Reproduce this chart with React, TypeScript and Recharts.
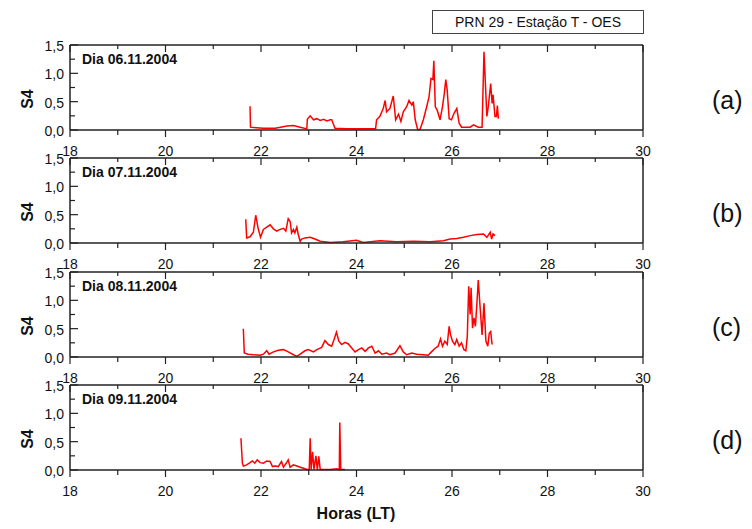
import React from "react";
import { LineChart, Line, XAxis, YAxis } from "recharts";

// Dia 06.11.2004
const hoursA = [21.77, 21.78, 21.9, 22.05, 22.3, 22.54, 22.68, 22.82, 22.96, 22.97, 23.03, 23.1, 23.17, 23.24, 23.31, 23.38, 23.45, 23.48, 23.55, 23.79, 24.14, 24.4, 24.42, 24.49, 24.56, 24.6, 24.63, 24.7, 24.77, 24.82, 24.88, 24.93, 24.98, 25.05, 25.1, 25.16, 25.19, 25.23, 25.28, 25.33, 25.4, 25.47, 25.52, 25.56, 25.6, 25.62, 25.65, 25.69, 25.75, 25.8, 25.84, 25.87, 25.9, 25.94, 25.99, 26.04, 26.1, 26.15, 26.2, 26.38, 26.45, 26.55, 26.63, 26.67, 26.73, 26.76, 26.81, 26.84, 26.86, 26.9, 26.93, 26.95, 26.97];
const s4A = [0.42, 0.05, 0.04, 0.03, 0.03, 0.07, 0.08, 0.05, 0.02, 0.19, 0.25, 0.18, 0.2, 0.17, 0.19, 0.16, 0.18, 0.18, 0.03, 0.02, 0.02, 0.02, 0.18, 0.24, 0.38, 0.52, 0.32, 0.38, 0.6, 0.18, 0.28, 0.15, 0.32, 0.41, 0.52, 0.44, 0.5, 0.18, 0.01, 0.01, 0.18, 0.41, 0.59, 0.91, 0.89, 1.22, 0.41, 0.35, 0.18, 0.41, 0.65, 0.89, 0.7, 0.2, 0.18, 0.29, 0.38, 0.12, 0.05, 0.05, 0.09, 0.05, 0.05, 1.38, 0.24, 0.41, 0.82, 0.47, 0.62, 0.24, 0.24, 0.43, 0.2];

// Dia 07.11.2004
const hoursB = [21.68, 21.7, 21.77, 21.84, 21.89, 21.94, 21.99, 22.05, 22.12, 22.19, 22.26, 22.33, 22.4, 22.47, 22.52, 22.57, 22.61, 22.64, 22.68, 22.71, 22.75, 22.78, 22.82, 22.85, 22.92, 23.03, 23.13, 23.24, 23.45, 23.72, 24.0, 24.14, 24.49, 24.84, 25.19, 25.54, 25.82, 25.96, 26.1, 26.24, 26.38, 26.52, 26.66, 26.73, 26.8, 26.83, 26.86, 26.9];
const s4B = [0.42, 0.09, 0.11, 0.19, 0.49, 0.26, 0.1, 0.24, 0.28, 0.32, 0.25, 0.21, 0.24, 0.26, 0.21, 0.43, 0.38, 0.18, 0.24, 0.18, 0.28, 0.15, 0.03, 0.07, 0.09, 0.1, 0.07, 0.03, 0.01, 0.02, 0.05, 0.01, 0.04, 0.02, 0.03, 0.02, 0.04, 0.07, 0.08, 0.1, 0.13, 0.15, 0.16, 0.1, 0.19, 0.07, 0.16, 0.13];

// Dia 08.11.2004
const hoursC = [21.63, 21.65, 21.73, 21.84, 21.98, 22.05, 22.12, 22.17, 22.26, 22.36, 22.47, 22.57, 22.68, 22.75, 22.82, 22.92, 22.99, 23.1, 23.17, 23.27, 23.34, 23.41, 23.48, 23.53, 23.58, 23.63, 23.69, 23.76, 23.83, 23.9, 23.97, 24.04, 24.11, 24.18, 24.25, 24.32, 24.39, 24.46, 24.53, 24.63, 24.7, 24.81, 24.91, 24.98, 25.05, 25.16, 25.26, 25.4, 25.5, 25.57, 25.64, 25.71, 25.76, 25.8, 25.85, 25.9, 25.94, 25.97, 26.01, 26.06, 26.1, 26.15, 26.2, 26.25, 26.29, 26.32, 26.35, 26.38, 26.4, 26.43, 26.46, 26.49, 26.52, 26.55, 26.59, 26.63, 26.67, 26.71, 26.75, 26.78, 26.81, 26.84];
const s4C = [0.5, 0.07, 0.05, 0.04, 0.03, 0.05, 0.11, 0.05, 0.09, 0.12, 0.13, 0.09, 0.04, 0.01, 0.05, 0.11, 0.13, 0.09, 0.13, 0.17, 0.29, 0.22, 0.19, 0.31, 0.44, 0.28, 0.22, 0.26, 0.23, 0.16, 0.09, 0.13, 0.16, 0.1, 0.16, 0.19, 0.07, 0.11, 0.05, 0.07, 0.04, 0.07, 0.2, 0.09, 0.04, 0.07, 0.05, 0.04, 0.03, 0.09, 0.15, 0.19, 0.32, 0.19, 0.28, 0.22, 0.54, 0.39, 0.28, 0.22, 0.31, 0.19, 0.25, 0.13, 0.11, 0.36, 1.25, 0.75, 1.22, 0.51, 0.69, 0.54, 0.92, 1.36, 0.86, 0.39, 0.95, 0.28, 0.19, 0.42, 0.45, 0.22];

// Dia 09.11.2004
const hoursD = [21.58, 21.61, 21.63, 21.7, 21.77, 21.82, 21.87, 21.92, 21.98, 22.05, 22.12, 22.19, 22.24, 22.29, 22.36, 22.43, 22.47, 22.52, 22.57, 22.61, 22.68, 22.75, 22.82, 22.89, 22.96, 23.01, 23.03, 23.05, 23.08, 23.11, 23.15, 23.18, 23.21, 23.24, 23.31, 23.45, 23.59, 23.64, 23.65, 23.67, 23.76];
const s4D = [0.56, 0.12, 0.07, 0.09, 0.13, 0.16, 0.12, 0.18, 0.13, 0.12, 0.16, 0.15, 0.06, 0.07, 0.06, 0.15, 0.05, 0.11, 0.18, 0.05, 0.09, 0.07, 0.05, 0.03, 0.01, 0.01, 0.56, 0.01, 0.32, 0.01, 0.25, 0.0, 0.24, 0.01, 0.01, 0.01, 0.02, 0.01, 0.84, 0.01, 0.01];

const dayLabels = ["Dia 06.11.2004", "Dia 07.11.2004", "Dia 08.11.2004", "Dia 09.11.2004"];
const panelTags = ["(a)", "(b)", "(c)", "(d)"];
const xTicks = [18, 19, 20, 21, 22, 23, 24, 25, 26, 27, 28, 29, 30];
const yTicks = [0, 0.25, 0.5, 0.75, 1.0, 1.25, 1.5];
const seriesHours = [hoursA, hoursB, hoursC, hoursD];
const seriesS4 = [s4A, s4B, s4C, s4D];

const FONT = '"Liberation Sans", Arial, Helvetica, sans-serif';
const AXIS = "#222";
const PLOT_H = 85;
const TOPS = [45, 158, 272, 385];

const isMajorX = (v: number) => v % 2 === 0;
const isMajorY = (v: number) => Math.abs(v * 2 - Math.round(v * 2)) < 1e-6;

const BottomTick = (p: any) => {
  const v = p.payload.value;
  const major = isMajorX(v);
  return (
    <g>
      <line x1={p.x} x2={p.x} y1={p.y} y2={p.y + (major ? 7 : 5)} stroke={AXIS} strokeWidth={1.2} />
      {major && (
        <text x={p.x} y={p.y + 26} textAnchor="middle" fontSize={14} fontFamily={FONT} fill="#111">
          {v}
        </text>
      )}
    </g>
  );
};

const TopTick = (p: any) => {
  const major = isMajorX(p.payload.value);
  return <line x1={p.x} x2={p.x} y1={p.y} y2={p.y + (major ? 7 : 4)} stroke={AXIS} strokeWidth={1.2} />;
};

const LeftTick = (p: any) => {
  const v = p.payload.value;
  const major = isMajorY(v);
  return (
    <g>
      <line x1={p.x} x2={p.x + (major ? 8 : 5)} y1={p.y} y2={p.y} stroke={AXIS} strokeWidth={1.2} />
      {major && (
        <text x={p.x - 6} y={p.y + 6} textAnchor="end" fontSize={14} fontFamily={FONT} fill="#111">
          {v.toFixed(1).replace(".", ",")}
        </text>
      )}
    </g>
  );
};

const RightTick = (p: any) => {
  const major = isMajorY(p.payload.value);
  return <line x1={p.x} x2={p.x - (major ? 7 : 4)} y1={p.y} y2={p.y} stroke={AXIS} strokeWidth={1.2} />;
};

function Panel({ index }: { index: number }) {
  const hours = seriesHours[index];
  const vals = seriesS4[index];
  const data = hours.map((h, i) => ({ h, s4: vals[i] }));
  const top = TOPS[index];
  const axisLine = { stroke: AXIS, strokeWidth: 1.5 };
  return (
    <div style={{ position: "absolute", left: 0, top: top - 15 }}>
      <LineChart width={752} height={PLOT_H + 45} data={data} margin={{ top: 14, right: 108, bottom: 0, left: 69 }}>
        <XAxis dataKey="h" type="number" domain={[18, 30]} ticks={xTicks} interval={0} axisLine={axisLine}
          tickLine={false} tickSize={0} tickMargin={0} height={30} tick={(p: any) => <BottomTick {...p} />} />
        <XAxis xAxisId="top" orientation="top" dataKey="h" type="number" domain={[18, 30]} ticks={xTicks} interval={0}
          axisLine={axisLine} tickLine={false} tickSize={0} tickMargin={0} height={1} tick={(p: any) => <TopTick {...p} />} />
        <YAxis type="number" domain={[0, 1.5]} ticks={yTicks} interval={0} axisLine={axisLine} tickLine={false}
          tickSize={0} tickMargin={0} width={1} tick={(p: any) => <LeftTick {...p} />} />
        <YAxis yAxisId="right" orientation="right" type="number" domain={[0, 1.5]} ticks={yTicks} interval={0}
          axisLine={axisLine} tickLine={false} tickSize={0} tickMargin={0} width={1} tick={(p: any) => <RightTick {...p} />} />
        <Line type="linear" dataKey="s4" stroke="#ff0000" strokeWidth={1.5} dot={false} isAnimationActive={false} />
      </LineChart>
    </div>
  );
}

export default function App() {
  return (
    <div style={{ position: "absolute", left: 0, top: 0, width: 752, height: 529, background: "#fff", fontFamily: FONT, overflow: "hidden" }}>
      {[0, 1, 2, 3].map((i) => (
        <Panel key={i} index={i} />
      ))}
      {TOPS.map((t, i) => (
        <React.Fragment key={"lbl" + i}>
          <div style={{ position: "absolute", left: 82, top: t + 6, fontSize: 14, fontWeight: 700, color: "#111", whiteSpace: "nowrap" }}>
            {dayLabels[i]}
          </div>
          <div style={{ position: "absolute", left: 8, top: t + 45, width: 40, textAlign: "center", fontSize: 16, fontWeight: 700,
            color: "#111", transform: "rotate(-90deg)" }}>
            S4
          </div>
          <div style={{ position: "absolute", left: 712, top: t + 41, fontSize: 25, color: "#111" }}>{panelTags[i]}</div>
        </React.Fragment>
      ))}
      <div style={{ position: "absolute", left: 432, top: 10, width: 210, height: 22, border: "1px solid #444",
        fontSize: 14, lineHeight: "22px", textAlign: "center", color: "#111", whiteSpace: "nowrap" }}>
        PRN 29 - Estação T - OES
      </div>
      <div style={{ position: "absolute", left: 256, top: 505, width: 200, textAlign: "center", fontSize: 16, fontWeight: 700, color: "#111" }}>
        Horas (LT)
      </div>
    </div>
  );
}
